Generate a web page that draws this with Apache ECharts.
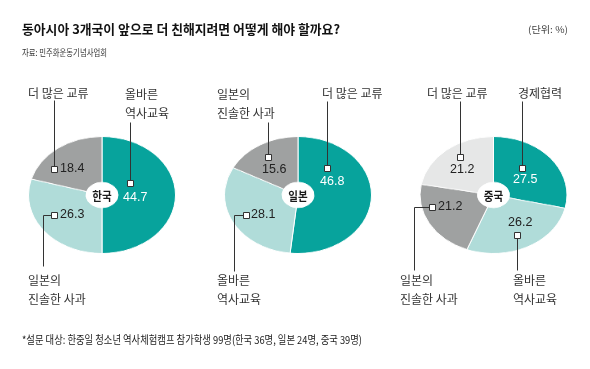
<!DOCTYPE html>
<html><head><meta charset="utf-8">
<script src="https://cdn.jsdelivr.net/npm/echarts@6/dist/echarts.min.js"></script>
<style>
html,body{margin:0;padding:0;background:#fff;}
#wrap{position:relative;width:590px;height:369px;overflow:hidden;}
#pies{position:absolute;left:0;top:0;width:590px;height:369px;transform:scaleY(0.795);transform-origin:0 195px;}
#ov{position:absolute;left:0;top:0;width:590px;height:369px;}
</style></head>
<body><div id="wrap"><div id="pies"></div><div id="ov"></div></div>
<script>
// ---- data ----
const titleText = '동아시아 3개국이 앞으로 더 친해지려면 어떻게 해야 할까요?';
const unitText = '(단위: %)';
const sourceText = '자료: 민주화운동기념사업회';
const noteText = '*설문 대상: 한중일 청소년 역사체험캠프 참가학생 99명(한국 36명, 일본 24명, 중국 39명)';
const countries = ['한국', '일본', '중국'];
const koreaCats = ['올바른\n역사교육', '일본의\n진솔한 사과', '더 많은 교류'];
const koreaVals = [44.7, 26.3, 18.4];
const japanCats = ['더 많은 교류', '올바른\n역사교육', '일본의\n진솔한 사과'];
const japanVals = [46.8, 28.1, 15.6];
const chinaCats = ['경제협력', '올바른\n역사교육', '일본의\n진솔한 사과', '더 많은 교류'];
const chinaVals = [27.5, 26.2, 21.2, 21.2];

// ---- styles / layout ----
const TEAL = '#07a39c', LTEAL = '#b0dcd9', GRAY = '#9fa1a1', LGRAY = '#e6e7e7';
const sliceColors = [[TEAL, LTEAL, GRAY], [TEAL, LTEAL, GRAY], [TEAL, LTEAL, GRAY, LGRAY]];
const centersX = [102, 298, 493.5];
const CY = 195;
const pieCats = [koreaCats, japanCats, chinaCats];
const pieVals = [koreaVals, japanVals, chinaVals];
// annotation layout: square centre, value text anchor, leader polyline, category anchor
const layout = [
  [
    {sq:[130,183], val:[123,198,'#fff'], line:[[130,180],[130,122]], cat:[125,103.5]},
    {sq:[54,215], val:[60,215,'#222'], line:[[51,215],[43,215],[43,266]], cat:[28,289.5]},
    {sq:[54,169], val:[60,169,'#222'], line:[[54,166],[54,100]], cat:[28,93]}
  ],
  [
    {sq:[327,168], val:[320,182,'#fff'], line:[[327,165],[327,101]], cat:[322,93]},
    {sq:[246,215], val:[251,215,'#222'], line:[[243,215],[234,215],[234,271]], cat:[217,289.5]},
    {sq:[268,157], val:[262,170,'#222'], line:[[268,154],[268,122]], cat:[217,103.5]}
  ],
  [
    {sq:[522,168], val:[513,180,'#fff'], line:[[522,165],[522,101]], cat:[518,93]},
    {sq:[517,235], val:[508,223,'#222'], line:[[517,238],[517,270]], cat:[513,289.5]},
    {sq:[432,207], val:[438,207,'#222'], line:[[429,207],[414,207],[414,270]], cat:[400,289.5]},
    {sq:[460,157], val:[450,170,'#222'], line:[[460,154],[460,101]], cat:[427,93]}
  ]
];

// ---- pies ----
const pieChart = echarts.init(document.getElementById('pies'), null, {renderer:'canvas'});
pieChart.setOption({
  animation:false,
  series: pieVals.map((vals, i) => ({
    type:'pie', silent:true, center:[centersX[i], CY], radius:[16, 73.5],
    startAngle:90, clockwise:true, label:{show:false}, labelLine:{show:false},
    itemStyle:{borderColor:'#fff', borderWidth:1},
    data: vals.map((v, j) => ({name: pieCats[i][j], value: v, itemStyle:{color: sliceColors[i][j]}}))
  }))
});

// ---- overlay text ----
const KR = '"Noto Sans CJK KR", "Noto Sans", sans-serif';
const NUM = '"Liberation Sans", Arial, sans-serif';
const mctx = document.createElement('canvas').getContext('2d');
function fitScale(text, font, target){ mctx.font = font; return target / mctx.measureText(text).width; }
function txt(text, x, y, font, fill, align, sx, extra){
  return Object.assign({type:'text', x:x, y:y, scaleX: sx || 1, silent:true,
    style:{text:text, font:font, fill:fill, align:align||'left', verticalAlign:'middle',
      textAlign:align||'left', textVerticalAlign:'middle', lineHeight:19}}, extra||{});
}
const g = [];
const fTitle = 'bold 13px ' + KR;
g.push(txt(titleText, 22, 29, fTitle, '#111', 'left', fitScale(titleText, fTitle, 318)));
const fUnit = '9.5px ' + KR;
g.push(txt(unitText, 568, 29, fUnit, '#444', 'right', fitScale(unitText, fUnit, 40)));
const fSrc = '9px ' + KR;
g.push(txt(sourceText, 22, 53, fSrc, '#333', 'left', fitScale(sourceText, fSrc, 85)));
const fNote = '11px ' + KR;
g.push(txt(noteText, 22, 340, fNote, '#1a1a1a', 'left', fitScale(noteText, fNote, 340)));

const fCat = '12px ' + KR;
const fVal = '12.5px ' + NUM;
const fCenter = 'bold 12px ' + KR;
pieVals.forEach((vals, i) => {
  g.push(txt(countries[i], centersX[i], CY + 1, fCenter, '#1a1a1a', 'center', 0.88));
  vals.forEach((v, j) => {
    const L = layout[i][j];
    g.push({type:'polyline', silent:true, shape:{points: L.line.map(p => [p[0] + 0.5, p[1] + 0.5])},
      style:{stroke:'#333', lineWidth:1, fill:null}});
    g.push({type:'rect', silent:true, shape:{x:L.sq[0] - 3 + 0.5, y:L.sq[1] - 3 + 0.5, width:6, height:6},
      style:{fill:'#fff', stroke:'#333', lineWidth:1}});
    g.push(txt(v.toFixed(1), L.val[0], L.val[1], fVal, L.val[2], 'left', 1));
    g.push(txt(pieCats[i][j], L.cat[0], L.cat[1], fCat, '#333', 'left', 1));
  });
});

const ov = echarts.init(document.getElementById('ov'), null, {renderer:'canvas'});
ov.setOption({animation:false, backgroundColor:'transparent', graphic:{elements:g}});
</script></body></html>
